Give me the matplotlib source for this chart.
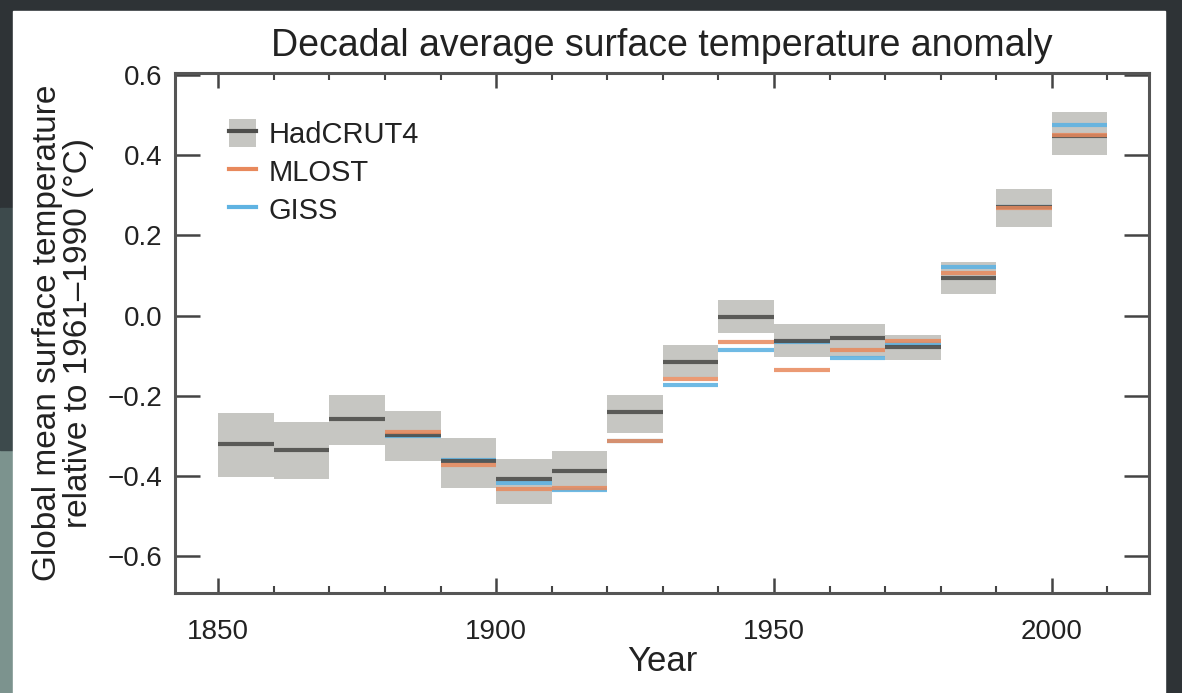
import numpy as np
import matplotlib
matplotlib.use("Agg")
import matplotlib.pyplot as plt
from matplotlib.patches import Rectangle, Patch
from matplotlib.lines import Line2D
from matplotlib.ticker import MultipleLocator, FuncFormatter

plt.rcParams['font.family'] = ['Liberation Sans', 'DejaVu Sans']

# decade starts
decades = [1850, 1860, 1870, 1880, 1890, 1900, 1910, 1920,
           1930, 1940, 1950, 1960, 1970, 1980, 1990, 2000]

# HadCRUT4 decadal means and uncertainty range
had_mean = [-0.320, -0.335, -0.259, -0.298, -0.362, -0.408, -0.387, -0.241,
            -0.115, -0.003, -0.063, -0.057, -0.079, 0.093, 0.271, 0.448]
had_low = [-0.402, -0.408, -0.323, -0.362, -0.431, -0.470, -0.439, -0.294,
           -0.153, -0.043, -0.104, -0.104, -0.111, 0.055, 0.221, 0.402]
had_high = [-0.244, -0.266, -0.198, -0.238, -0.305, -0.358, -0.338, -0.198,
            -0.074, 0.040, -0.020, -0.020, -0.049, 0.134, 0.315, 0.508]

# MLOST and GISS start in 1880
other_decades = decades[3:]
mlost = [-0.291, -0.373, -0.434, -0.431, -0.312, -0.159, -0.065, -0.136,
         -0.086, -0.063, 0.107, 0.268, 0.452]
giss = [-0.300, -0.360, -0.418, -0.436, -0.312, -0.173, -0.086, -0.066,
        -0.105, -0.072, 0.122, 0.270, 0.475]

box_col = '#c6c6c2'
had_col = '#4e4e4c'
mlost_col = '#e8895c'
giss_col = '#5fb3e2'
txt_col = '#222222'

fig = plt.figure(figsize=(11.82, 6.93), dpi=100)
fig.patch.set_facecolor('#2e3336')

# white panel + photo-ish edges
fig.add_artist(Rectangle((0, 0), 13 / 1182, 0.35, transform=fig.transFigure,
                         color='#7c938e', zorder=-2))
fig.add_artist(Rectangle((0, 0.35), 13 / 1182, 0.35, transform=fig.transFigure,
                         color='#3d4a4c', zorder=-2))
fig.add_artist(Rectangle((13 / 1182, 0), (1165 - 13) / 1182, (693 - 11) / 693,
                         transform=fig.transFigure, color='white', zorder=-1))

ax = fig.add_axes([175 / 1182, 1 - 592.7 / 693, (1149 - 175) / 1182, (592.7 - 72.7) / 693])

d = np.array(decades)
ax.bar(d, np.array(had_high) - np.array(had_low), bottom=had_low, width=10,
       align='edge', color=box_col, edgecolor='none', zorder=1)

od = np.array(other_decades)
ax.hlines(giss, od, od + 10, colors=giss_col, lw=3, zorder=2, alpha=0.9)
ax.hlines(had_mean, d, d + 10, colors=had_col, lw=3, zorder=3, alpha=0.9)
ax.hlines(mlost, od, od + 10, colors=mlost_col, lw=3, zorder=4, alpha=0.85)

ax.set_xlim(1842.2, 2017.5)
ax.set_ylim(-0.692, 0.6065)

ax.xaxis.set_major_locator(MultipleLocator(50))
ax.xaxis.set_minor_locator(MultipleLocator(10))
ax.yaxis.set_major_locator(MultipleLocator(0.2))
ax.yaxis.set_major_formatter(FuncFormatter(lambda v, p: f'{v:.1f}'.replace('-', '\u2212')))

ax.tick_params(axis='both', which='both', direction='in', top=True, right=True,
               color='#444444', labelsize=20, labelcolor=txt_col)
ax.tick_params(axis='y', which='major', length=18, width=1.8, pad=9)
ax.tick_params(axis='x', which='major', length=11, width=1.8, pad=19)
ax.tick_params(axis='x', which='minor', length=5, width=1.5)
ax.tick_params(axis='y', which='minor', left=False, right=False)

for s in ax.spines.values():
    s.set_linewidth(2.2)
    s.set_color('#555555')

ax.set_title('Decadal average surface temperature anomaly', fontsize=27,
             color=txt_col, pad=12)
ax.set_xlabel('Year', fontsize=25, color=txt_col, labelpad=0)
ax.set_ylabel('Global mean surface temperature\nrelative to 1961\u20131990 (\u00b0C)',
              fontsize=24, color=txt_col, labelpad=10, linespacing=1.0)

handles = [(Patch(facecolor=box_col, edgecolor='none'),
            Line2D([], [], color=had_col, lw=3)),
           Line2D([], [], color=mlost_col, lw=3),
           Line2D([], [], color=giss_col, lw=3)]
ax.legend(handles, ['HadCRUT4', 'MLOST', 'GISS'], loc='upper left',
          bbox_to_anchor=(0.028, 0.962), frameon=False, fontsize=21,
          handlelength=0.93, handleheight=1.1, handletextpad=0.45,
          labelspacing=0.28, labelcolor=txt_col)

fig.savefig('out.png', dpi=100, facecolor=fig.get_facecolor())
